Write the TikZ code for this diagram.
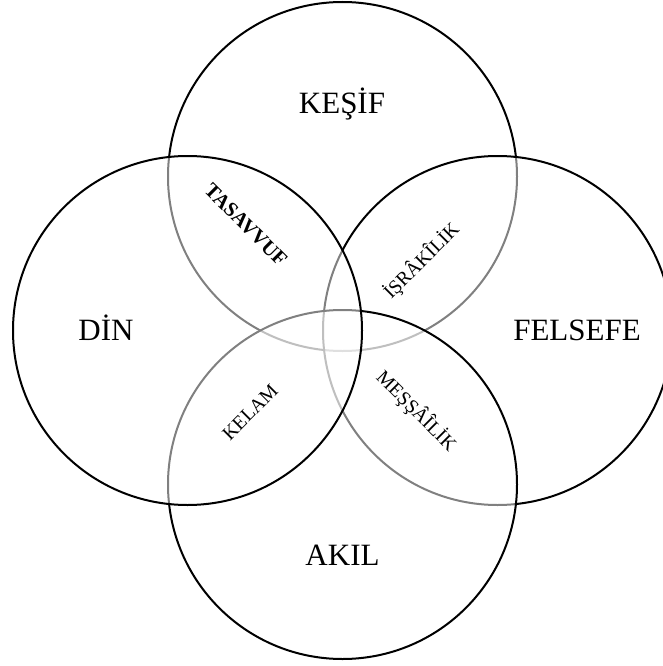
\documentclass[tikz,border=0pt]{standalone}
\usepackage{fontspec}
\setmainfont{Liberation Serif}

\begin{document}
\begin{tikzpicture}[
    x=1pt, y=-1pt,
    ring/.style={
      circle, draw=black, line width=2pt, fill=white, fill opacity=0.5,
      text opacity=1, minimum size=349pt, inner sep=0pt
    },
    big/.style={font=\fontsize{31}{31}\selectfont},
    small/.style={font=\fontsize{19.5}{19.5}\selectfont}
  ]
  \useasboundingbox (0,0) rectangle (663,666);

  % circles, later ones pale the lines of earlier ones
  \node[ring] (kesif) at (342.5,176.5) {};
  \node[ring] (felsefe) at (497.5,330.5) {};
  \node[ring] (akil) at (342.5,484.5) {};
  \node[ring] (din) at (187.5,330.5) {};

  \node[big] (kesiflabel) at (342,104) {KEŞİF};
  \node[big] (dinlabel) at (106,328) {DİN};
  \node[big] (felsefelabel) at (577,330) {FELSEFE};
  \node[big] (akillabel) at (342.5,555) {AKIL};

  \node[small, font=\fontsize{20.5}{20.5}\selectfont\bfseries, rotate=-45] (tasavvuf) at (246,225) {TASAVVUF};
  \node[small, rotate=45] (israkilik) at (421.5,261) {İŞRÂKÎLİK};
  \node[small, rotate=45] (kelam) at (250,412) {KELAM};
  \node[small, rotate=-45] (messailik) at (416.5,411) {MEŞŞÂÎLİK};
\end{tikzpicture}
\end{document}
